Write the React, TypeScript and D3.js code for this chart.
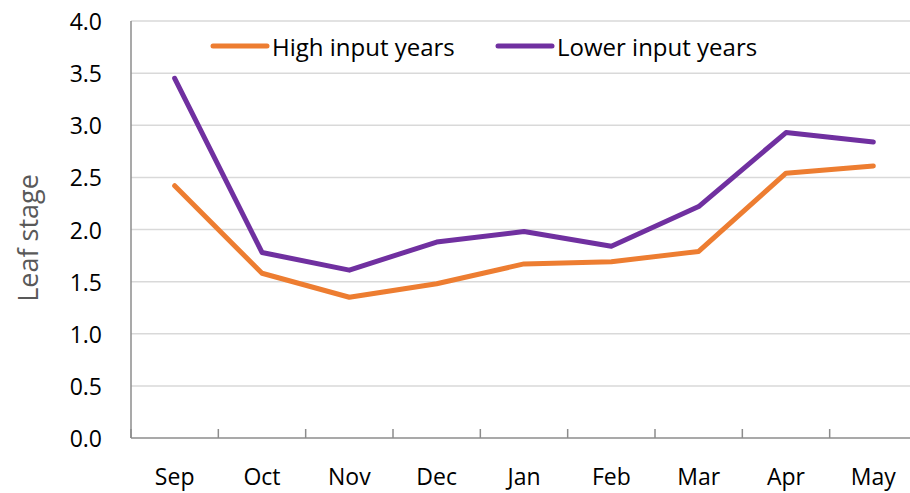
import React from 'react';
import * as d3 from 'd3';

const months = ['Sep', 'Oct', 'Nov', 'Dec', 'Jan', 'Feb', 'Mar', 'Apr', 'May'];
const highInput = [2.42, 1.58, 1.35, 1.48, 1.67, 1.69, 1.79, 2.54, 2.61];
const lowerInput = [3.45, 1.78, 1.61, 1.88, 1.98, 1.84, 2.22, 2.93, 2.84];
const yTicks = [0, 0.5, 1, 1.5, 2, 2.5, 3, 3.5, 4];

const seriesList = [
  { name: 'High input years', values: highInput, color: '#ED7D31' },
  { name: 'Lower input years', values: lowerInput, color: '#7030A0' },
];

const width = 910;
const height = 493;
const left = 131;
const right = 917;
const top = 21;
const bottom = 438;
const font = '"Open Sans", sans-serif';

export default function App() {
  const x = d3.scaleBand().domain(months).range([left, right]);
  const y = d3.scaleLinear().domain([0, 4]).range([bottom, top]);

  const line = d3
    .line<number>()
    .x((_, i) => (x(months[i]) as number) + x.bandwidth() / 2)
    .y((d) => y(d));

  // tick marks sit on category boundaries
  const bounds = months.map((m) => x(m) as number).concat([right]);

  return (
    <svg
      width={width}
      height={height}
      style={{ position: 'absolute', left: 0, top: 0, background: '#fff' }}
    >
      {yTicks.filter((t) => t > 0).map((t) => (
        <line key={t} x1={left} x2={width} y1={y(t)} y2={y(t)} stroke="#d9d9d9" strokeWidth={1.5} />
      ))}
      {yTicks.map((t) => (
        <text
          key={'l' + t}
          x={102}
          y={y(t)}
          textAnchor="end"
          dominantBaseline="central"
          fontFamily={font}
          fontSize={23}
          fill="#000"
        >
          {t.toFixed(1)}
        </text>
      ))}
      <line x1={left} x2={left} y1={top} y2={bottom} stroke="#8c8c8c" strokeWidth={1.5} />
      <line x1={left} x2={width} y1={bottom} y2={bottom} stroke="#8c8c8c" strokeWidth={1.5} />
      {bounds.map((b, i) => (
        <line key={'t' + i} x1={b} x2={b} y1={bottom} y2={bottom - 9} stroke="#8c8c8c" strokeWidth={1.5} />
      ))}
      {months.map((m) => (
        <text
          key={m}
          x={(x(m) as number) + x.bandwidth() / 2}
          y={476}
          textAnchor="middle"
          dominantBaseline="central"
          fontFamily={font}
          fontSize={23}
          fill="#000"
        >
          {m}
        </text>
      ))}
      <text
        transform={`translate(27,238) rotate(-90)`}
        textAnchor="middle"
        dominantBaseline="central"
        fontFamily={font}
        fontSize={27}
        fill="#595959"
      >
        Leaf stage
      </text>
      {seriesList.map((s) => (
        <path
          key={s.name}
          d={line(s.values) || ''}
          fill="none"
          stroke={s.color}
          strokeWidth={5}
          strokeLinejoin="round"
          strokeLinecap="round"
        />
      ))}
      {seriesList.map((s, i) => {
        const lx = i === 0 ? 213 : 498;
        return (
          <g key={'lg' + s.name}>
            <line x1={lx} x2={lx + 54} y1={46} y2={46} stroke={s.color} strokeWidth={5} strokeLinecap="round" />
            <text
              x={lx + 59}
              y={46}
              dominantBaseline="central"
              fontFamily={font}
              fontSize={24}
              fill="#000"
            >
              {s.name}
            </text>
          </g>
        );
      })}
    </svg>
  );
}
